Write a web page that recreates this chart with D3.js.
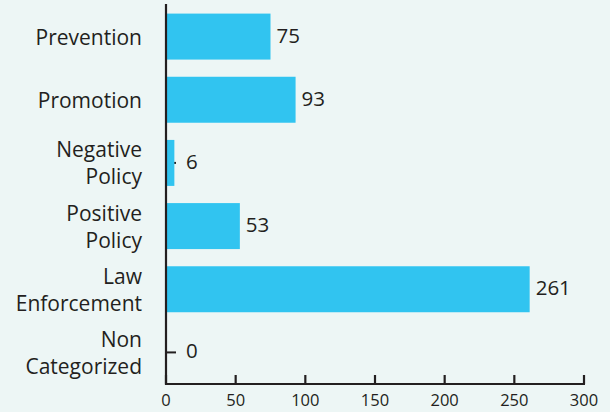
<!DOCTYPE html>
<html><head><meta charset="utf-8">
<script src="https://cdn.jsdelivr.net/npm/d3@7"></script>
<style>html,body{margin:0;padding:0;background:#edf6f5;}svg{display:block;}</style>
</head><body><div id="chart"></div>
<script>
const categories = ["Prevention", "Promotion", "Negative Policy", "Positive Policy", "Law Enforcement", "Non Categorized"];
const categoryLines = [["Prevention"], ["Promotion"], ["Negative", "Policy"], ["Positive", "Policy"], ["Law", "Enforcement"], ["Non", "Categorized"]];
const values = [75, 93, 6, 53, 261, 0];
const xTicks = [0, 50, 100, 150, 200, 250, 300];

const W = 610, H = 412;
const svg = d3.select("#chart").append("svg").attr("width", W).attr("height", H);
svg.append("rect").attr("width", W).attr("height", H).attr("fill", "#edf6f5");

const x = d3.scaleLinear().domain([0, 300]).range([166, 584]);
const y = d3.scaleBand().domain(categories).range([5, 384]).paddingInner(0.272).paddingOuter(0.136);
const ink = "#231f20";
const font = "'Open Sans', sans-serif";

// y-axis ticks (behind bars)
svg.append("g").selectAll("line").data(categories).join("line")
  .attr("x1", x(0)).attr("x2", x(0) + 10)
  .attr("y1", d => y(d) + y.bandwidth() / 2).attr("y2", d => y(d) + y.bandwidth() / 2)
  .attr("stroke", ink).attr("stroke-width", 2);

// bars
svg.append("g").selectAll("rect").data(values).join("rect")
  .attr("x", x(0)).attr("y", (d, i) => y(categories[i]))
  .attr("width", d => x(d) - x(0)).attr("height", y.bandwidth())
  .attr("fill", "#31c4f0");

// axes lines
svg.append("line").attr("x1", x(0)).attr("x2", x(0)).attr("y1", 4).attr("y2", 385)
  .attr("stroke", ink).attr("stroke-width", 2.2);
svg.append("line").attr("x1", x(0) - 1).attr("x2", x(300) + 1).attr("y1", 384).attr("y2", 384)
  .attr("stroke", ink).attr("stroke-width", 2.2);

// x ticks
const xt = svg.append("g").selectAll("g").data(xTicks).join("g");
xt.append("line").attr("x1", d => x(d)).attr("x2", d => x(d)).attr("y1", 375).attr("y2", 384)
  .attr("stroke", ink).attr("stroke-width", 2.2);
xt.append("text").attr("x", d => x(d)).attr("y", 399).attr("text-anchor", "middle")
  .attr("dominant-baseline", "central").attr("font-family", font).attr("font-size", 16.5)
  .attr("fill", ink).text(d => d);

// value labels
svg.append("g").selectAll("text").data(values).join("text")
  .attr("x", d => Math.max(x(d), x(0) + 14) + 6)
  .attr("y", (d, i) => y(categories[i]) + y.bandwidth() / 2 - 2)
  .attr("dominant-baseline", "central").attr("font-family", font).attr("font-size", 20.5)
  .attr("fill", ink).text(d => d);

// category labels
const cl = svg.append("g").selectAll("text").data(categoryLines).join("text")
  .attr("text-anchor", "end").attr("font-family", font).attr("font-size", 21).attr("fill", ink)
  .attr("transform", (d, i) => `translate(142,${y(categories[i]) + y.bandwidth() / 2})`);
cl.each(function(lines) {
  const t = d3.select(this);
  const lh = 27;
  lines.forEach((l, j) => {
    t.append("tspan").attr("x", 0).attr("y", (j - (lines.length - 1) / 2) * lh)
      .attr("dominant-baseline", "central").text(l);
  });
});
</script></body></html>
